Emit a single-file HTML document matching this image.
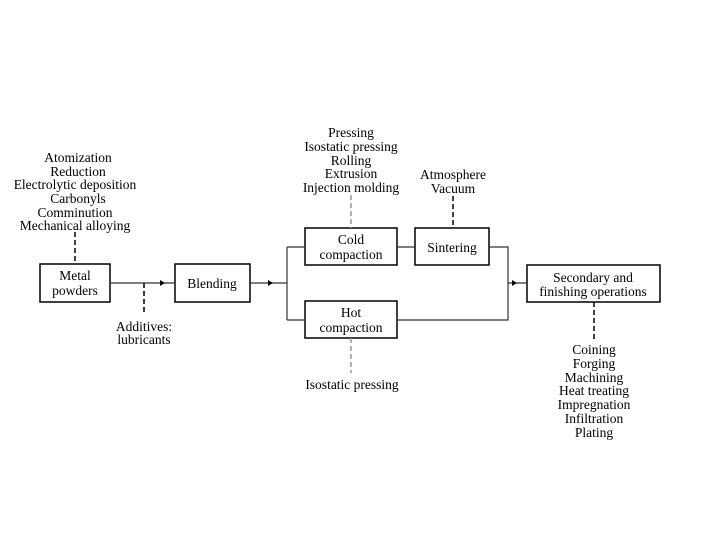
<!DOCTYPE html>
<html><head><style>body{margin:0;background:#fff}svg{display:block}</style></head><body>
<svg width="720" height="540" xmlns="http://www.w3.org/2000/svg" font-family="Liberation Serif, serif" font-size="13.5" fill="#000" text-anchor="middle">
<rect width="720" height="540" fill="#fff"/>
<g fill="none" stroke="#000" stroke-width="1.5">
<rect x="40" y="264" width="70" height="38"/>
<rect x="175" y="264" width="75" height="38"/>
<rect x="305" y="228" width="92" height="37"/>
<rect x="305" y="301" width="92" height="37"/>
<rect x="415" y="228" width="74" height="37"/>
<rect x="527" y="265" width="133" height="37"/>
</g>
<g fill="none" stroke="#333" stroke-width="1.2">
<path d="M110 283H175M250 283H287M287 247V320M287 247H305M287 320H305M397 247H415M489 247H508V320H397M508 283H527"/>
</g>
<g fill="#000"><path d="M160 280l5 3-5 3z"/><path d="M268 280l5 3-5 3z"/><path d="M512 280l5 3-5 3z"/></g>
<g fill="none" stroke="#000" stroke-width="1.5" stroke-dasharray="5,3">
<path d="M75 232V264M144 283V315M453 196V228M594 302V342"/>
</g>
<g fill="none" stroke="#999" stroke-width="1.5" stroke-dasharray="5,3">
<path d="M351 195V228M351 338V373"/>
</g>
<text x="75" y="280">Metal</text><text x="75" y="295">powders</text>
<text x="212" y="288">Blending</text>
<text x="351" y="244">Cold</text><text x="351" y="259">compaction</text>
<text x="351" y="317">Hot</text><text x="351" y="332">compaction</text>
<text x="452" y="252">Sintering</text>
<text x="593" y="282">Secondary  and</text><text x="593" y="296">finishing  operations</text>
<text x="78" y="162">Atomization</text><text x="78" y="176">Reduction</text><text x="75" y="189">Electrolytic  deposition</text><text x="78" y="203">Carbonyls</text><text x="75" y="217">Comminution</text><text x="75" y="230">Mechanical  alloying</text>
<text x="144" y="331">Additives:</text><text x="144" y="344">lubricants</text>
<text x="351" y="137">Pressing</text><text x="351" y="151">Isostatic  pressing</text><text x="351" y="165">Rolling</text><text x="351" y="178">Extrusion</text><text x="351" y="192">Injection  molding</text>
<text x="453" y="179">Atmosphere</text><text x="453" y="193">Vacuum</text>
<text x="352" y="389">Isostatic  pressing</text>
<text x="594" y="354">Coining</text><text x="594" y="368">Forging</text><text x="594" y="382">Machining</text><text x="594" y="395">Heat  treating</text><text x="594" y="409">Impregnation</text><text x="594" y="423">Infiltration</text><text x="594" y="437">Plating</text>
</svg>
</body></html>
